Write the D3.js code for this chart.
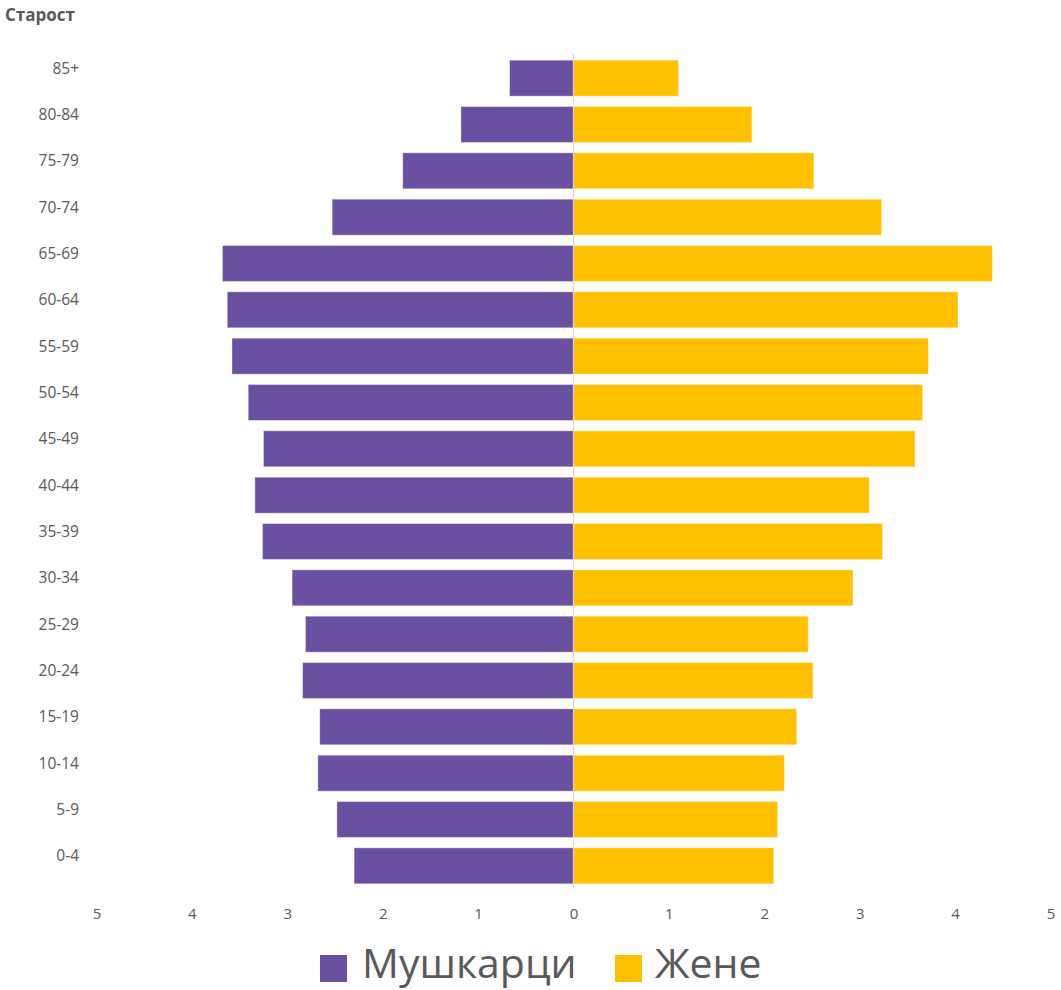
<!DOCTYPE html>
<html>
<head>
<meta charset="utf-8">
<script src="https://cdn.jsdelivr.net/npm/d3@7"></script>
<style>
  html, body { margin: 0; padding: 0; background: #fff; }
  svg { display: block; }
  text { font-family: "Open Sans", "Noto Sans", sans-serif; fill: #595959; }
</style>
</head>
<body>
<div id="chart"></div>
<script>
const categories = ["85+","80-84","75-79","70-74","65-69","60-64","55-59","50-54","45-49","40-44","35-39","30-34","25-29","20-24","15-19","10-14","5-9","0-4"];
const men   = [0.67,1.18,1.79,2.53,3.68,3.63,3.58,3.41,3.25,3.34,3.26,2.95,2.81,2.84,2.66,2.68,2.48,2.30];
const women = [1.10,1.87,2.52,3.23,4.39,4.03,3.72,3.66,3.58,3.10,3.24,2.93,2.46,2.51,2.34,2.21,2.14,2.10];
const xTicks = [-5,-4,-3,-2,-1,0,1,2,3,4,5];
const seriesNames = ["Мушкарци","Жене"];
const colors = ["#6950A1","#FFC000"];
const axisTitle = "Старост";

const W = 1061, H = 990;
const svg = d3.select("#chart").append("svg").attr("width", W).attr("height", H);

const x = d3.scaleLinear().domain([-5, 5]).range([96.5, 1050.5]);
const y = d3.scaleBand().domain(categories).range([55, 889]).paddingInner(0.223).paddingOuter(0.1115);

// bars
const rows = categories.map((c, i) => ({c, m: men[i], w: women[i]}));
svg.append("g").selectAll("rect").data(rows).join("rect")
  .attr("x", d => x(-d.m)).attr("width", d => x(0) - x(-d.m))
  .attr("y", d => y(d.c)).attr("height", y.bandwidth())
  .attr("fill", colors[0]).attr("stroke", "#fff").attr("stroke-opacity", 0.5).attr("stroke-width", 0.8);
svg.append("g").selectAll("rect").data(rows).join("rect")
  .attr("x", x(0)).attr("width", d => x(d.w) - x(0))
  .attr("y", d => y(d.c)).attr("height", y.bandwidth())
  .attr("fill", colors[1]).attr("stroke", "#fff").attr("stroke-opacity", 0.5).attr("stroke-width", 0.8);

// vertical axis line
svg.append("line")
  .attr("x1", x(0)).attr("x2", x(0)).attr("y1", 54).attr("y2", 889)
  .attr("stroke", "#D9D9D9").attr("stroke-width", 1.2);

// category labels
const yAxis = svg.append("g").attr("transform", "translate(79,0)")
  .call(d3.axisLeft(y).tickSize(0).tickPadding(0));
yAxis.select(".domain").remove();
yAxis.selectAll("text")
  .attr("dy", null).attr("dominant-baseline", "central")
  .attr("transform", "translate(0,-10.5)")
  .style("font-family", "'Open Sans', sans-serif").style("font-size", "15.5px").attr("fill", "#595959");

// x axis tick labels
const xAxis = svg.append("g").attr("transform", "translate(0,889)")
  .call(d3.axisBottom(x).tickValues(xTicks).tickSize(0).tickPadding(0).tickFormat(d => Math.abs(d)));
xAxis.select(".domain").remove();
xAxis.selectAll("text")
  .attr("dy", null).attr("y", 24).attr("dominant-baseline", "central")
  .style("font-family", "'Open Sans', sans-serif").style("font-size", "15px").attr("fill", "#595959");

// axis title
svg.append("text").attr("x", 5).attr("y", 14).attr("dominant-baseline", "central")
  .style("font-size", "17px").style("font-weight", "bold").text(axisTitle);

// legend
const legendItems = [
  {name: seriesNames[0], color: colors[0], rx: 320, tx: 362},
  {name: seriesNames[1], color: colors[1], rx: 615, tx: 655}
];
const lg = svg.append("g");
legendItems.forEach(it => {
  lg.append("rect").attr("x", it.rx).attr("y", 955).attr("width", 27).attr("height", 27).attr("fill", it.color);
  lg.append("text").attr("x", it.tx).attr("y", 977.5).style("font-size", "41px").text(it.name);
});
</script>
</body>
</html>
